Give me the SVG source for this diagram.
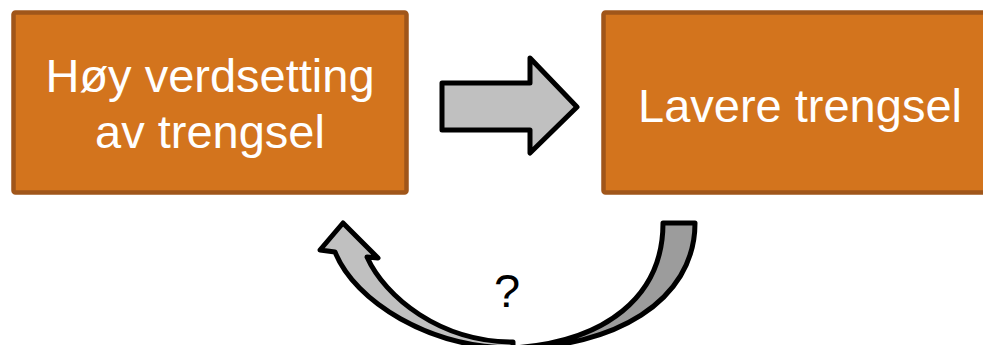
<svg xmlns="http://www.w3.org/2000/svg" width="983" height="345" viewBox="0 0 983 345">
<style>
.box{fill:#D3741D;stroke:#A0561A;stroke-width:4.5}
.lbl{font-family:"Liberation Sans",Arial,sans-serif;font-size:47px;fill:#FFFFFF;text-anchor:middle}
.arr{stroke:#000000;stroke-width:5;stroke-linejoin:round}
.q{font-family:"Liberation Sans",Arial,sans-serif;font-size:47px;fill:#000000;text-anchor:middle}
</style>
<rect width="983" height="345" fill="#FFFFFF"/>
<g id="node-hoy">
<rect class="box" x="13.5" y="12.5" width="393" height="180" rx="2"/>
<text class="lbl" x="210" y="92">Høy verdsetting</text>
<text class="lbl" x="210" y="148">av trengsel</text>
</g>
<g id="node-lavere">
<rect class="box" x="603.5" y="12.5" width="393" height="180" rx="2"/>
<text class="lbl" x="800" y="122">Lavere trengsel</text>
</g>
<g id="connectors">
<path class="arr" fill="#C0C0C0" d="M442,83 L530,83 L530,58 L577,107 L530,153 L530,130 L442,130 Z"/>
<path class="arr" fill="#9C9C9C" d="M663,223 L695,223 C695,302 612,348 513,348 C605,342 663,297 663,223 Z"/>
<path class="arr" fill="#C0C0C0" d="M513,348 C430,348 355,302 335,252 L320,250 L343,223 L378,258 L367,257 C385,297 440,342 513,342 Z"/>
<text class="q" x="507" y="307">?</text>
</g>
</svg>
